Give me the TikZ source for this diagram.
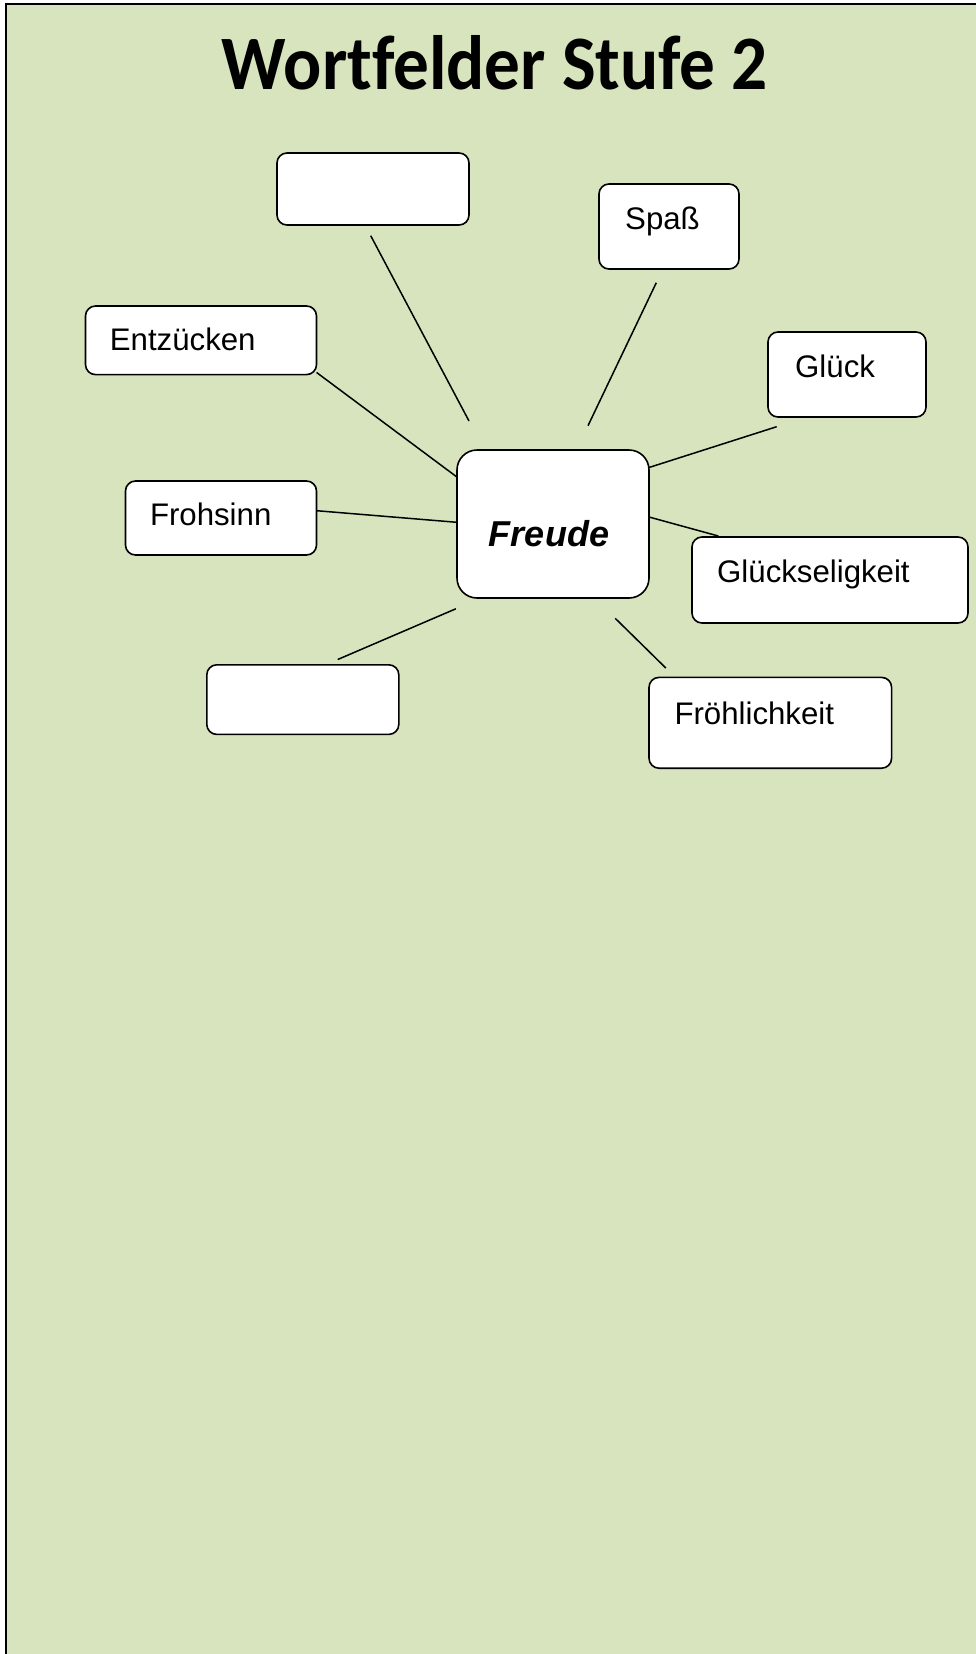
\documentclass[tikz,border=0pt]{standalone}
\usepackage{graphicx}
\usepackage{fontspec}
\setmainfont{Liberation Sans}
\newfontfamily\titlefont[Ligatures=NoCommon]{Carlito}
\definecolor{bg}{HTML}{D7E4BD}
\begin{document}
\begin{tikzpicture}[x=1pt,y=-1pt,
  box/.style={draw, line width=1.6pt, fill=white, rounded corners=10pt, inner sep=0pt},
  word/.style={anchor=base west, inner sep=0pt, font=\fontsize{31.2}{36}\selectfont},
  link/.style={line width=1.5pt}]
\useasboundingbox (0,0) rectangle (975,1654);
\fill[bg] (6,5) rectangle (985,1664);
\draw[line width=2pt] (6,1664) -- (6,4.5) -- (985,4.5);

\node[anchor=base, inner sep=0pt, font=\titlefont\bfseries\fontsize{77}{90}\selectfont] (title) at (495,89.7) {\scalebox{0.925}[1]{Wortfelder Stufe 2}};

% connector end points
\coordinate (a1) at (370.7,235.7); \coordinate (b1) at (469,421);
\coordinate (a2) at (656.3,282.7); \coordinate (b2) at (588,425.7);
\coordinate (a3) at (316.6,372.5); \coordinate (b3) at (456.9,477);
\coordinate (a4) at (776.7,426.7); \coordinate (b4) at (649,467.5);
\coordinate (a5) at (316.6,510.7); \coordinate (b5) at (456.9,522.3);
\coordinate (a6) at (718.3,536);   \coordinate (b6) at (649,517);
\coordinate (a7) at (337.7,659.5); \coordinate (b7) at (455.8,608.8);
\coordinate (a8) at (665.8,668);   \coordinate (b8) at (615.2,618.3);
\foreach \i in {1,...,8} {\draw[link] (a\i) -- (b\i);}

\node[box, minimum width=192pt, minimum height=72pt] (e1) at (373,189) {};
\node[box, minimum width=140pt, minimum height=85pt] (spass) at (669,226.5) {};
\node[box, minimum width=231pt, minimum height=68.6pt] (entz) at (201,340.3) {};
\node[box, minimum width=158pt, minimum height=85pt] (glueck) at (847,374.5) {};
\node[box, rounded corners=20pt, minimum width=192pt, minimum height=148pt] (freude) at (553,524) {};
\node[box, minimum width=191pt, minimum height=74pt] (froh) at (221,518) {};
\node[box, minimum width=276pt, minimum height=86pt] (gsel) at (830,580) {};
\node[box, minimum width=192pt, minimum height=69.6pt] (e2) at (302.8,699.6) {};
\node[box, minimum width=242.6pt, minimum height=90.8pt] (froeh) at (770.3,722.8) {};

\node[word] (tspass) at (625,229) {Spaß};
\node[word] (tentz) at (109.7,350) {Entzücken};
\node[word] (tglueck) at (795,377) {Glück};
\node[word] (tfroh) at (149.8,525.5) {Frohsinn};
\node[word] (tgsel) at (717,582) {Glückseligkeit};
\node[word] (tfroeh) at (674.3,724) {Fröhlichkeit};
\node[anchor=base, inner sep=0pt, font=\bfseries\itshape\fontsize{36}{42}\selectfont] (tfreude) at (549,546) {Freude};
\end{tikzpicture}
\end{document}
